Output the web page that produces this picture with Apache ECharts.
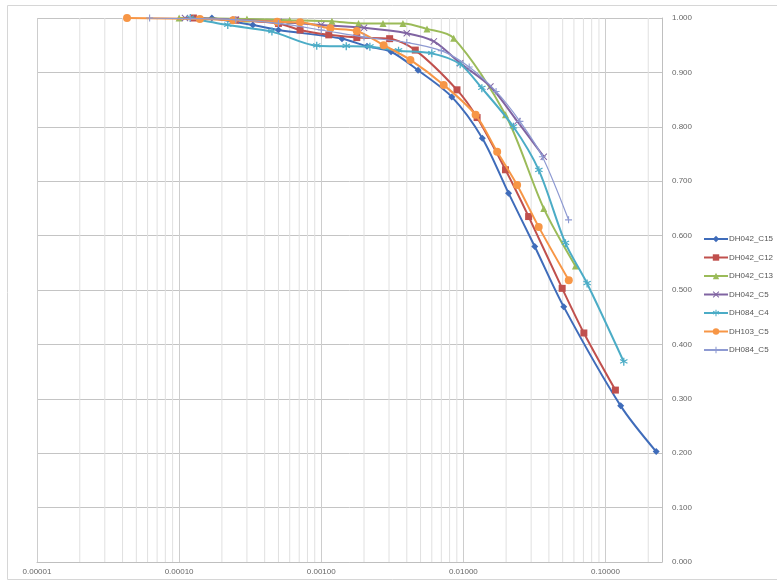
<!DOCTYPE html>
<html>
<head>
<meta charset="utf-8">
<script src="https://cdn.jsdelivr.net/npm/echarts@6/dist/echarts.min.js"></script>
<style>html,body{margin:0;padding:0;background:#fff}#c{width:777px;height:584px}</style>
</head>
<body>
<div id="c"></div>
<script>
// ---- data ----
const seriesNames = ['DH042_C15','DH042_C12','DH042_C13','DH042_C5','DH084_C4','DH103_C5','DH084_C5'];
const xTickLabels = ['0.00001','0.00010','0.00100','0.01000','0.10000'];
const yTickLabels = ['0.000','0.100','0.200','0.300','0.400','0.500','0.600','0.700','0.800','0.900','1.000'];

const c15X = [0.00017,0.00033,0.0005,0.0014,0.0021,0.0031,0.0048,0.0083,0.0136,0.0208,0.0318,0.0509,0.128,0.2275];
const c15Y = [1.000,0.987,0.978,0.962,0.948,0.938,0.904,0.855,0.779,0.678,0.580,0.469,0.287,0.203];

const c12X = [0.000126,0.00025,0.0005,0.00071,0.00113,0.00178,0.00303,0.00459,0.00902,0.0125,0.0198,0.0288,0.0496,0.0705,0.1175];
const c12Y = [1.000,0.996,0.990,0.978,0.969,0.964,0.962,0.941,0.868,0.817,0.721,0.635,0.503,0.421,0.316];

const c13X = [0.0001,0.0003,0.0006,0.00119,0.00183,0.00272,0.00376,0.00555,0.00855,0.0198,0.0368,0.0615];
const c13Y = [1.000,0.998,0.996,0.994,0.990,0.990,0.990,0.980,0.963,0.822,0.650,0.544];

const c5X = [0.00011,0.00025,0.0005,0.001,0.002,0.004,0.0062,0.0095,0.0155,0.024,0.0368];
const c5Y = [1.000,0.997,0.993,0.987,0.982,0.972,0.957,0.917,0.874,0.810,0.745];

const c4X = [0.00012,0.00022,0.00045,0.00093,0.0015,0.0022,0.0035,0.006,0.0095,0.0135,0.0225,0.034,0.0523,0.0743,0.1346];
const c4Y = [1.000,0.987,0.975,0.949,0.948,0.947,0.940,0.935,0.915,0.871,0.800,0.720,0.586,0.512,0.368];

const d103X = [0.000043,0.00014,0.00024,0.00049,0.00071,0.00116,0.00178,0.00275,0.00424,0.00727,0.0122,0.0173,0.0239,0.0339,0.0552];
const d103Y = [1.000,0.998,0.996,0.993,0.992,0.981,0.976,0.950,0.923,0.877,0.822,0.754,0.693,0.616,0.518];

const d84c5X = [0.000062,0.00012,0.00025,0.0005,0.001,0.002,0.004,0.007,0.011,0.017,0.025,0.036,0.055];
const d84c5Y = [1.000,0.999,0.997,0.990,0.978,0.965,0.955,0.940,0.910,0.865,0.810,0.745,0.629];

// ---- styling ----
const colors = ['#3F6CBA','#C0504D','#9BBB59','#8064A2','#4BACC6','#F79646','#8E9AD2'];
const symX = 'path://M1,0L5,4L9,0L10,1L6,5L10,9L9,10L5,6L1,10L0,9L4,5L0,1Z';
const symPlus = 'path://M4.2,0H5.8V4.2H10V5.8H5.8V10H4.2V5.8H0V4.2H4.2Z';
const symStar = 'path://M4.3,0H5.7V3.3L8.6,1.6L9.3,2.8L6.4,4.5L9.3,6.2L8.6,7.4L5.7,5.7V10H4.3V5.7L1.4,7.4L0.7,6.2L3.6,4.5L0.7,2.8L1.4,1.6L4.3,3.3Z';
const symbols = ['diamond','rect','triangle',symX,symStar,'circle',symPlus];
const symSizes = [7,7,7,7,8,8,7];
const widths = [2,2,2,2,2,2,1.2];

const xs = [c15X,c12X,c13X,c5X,c4X,d103X,d84c5X];
const ys = [c15Y,c12Y,c13Y,c5Y,c4Y,d103Y,d84c5Y];

const XMIN = 0.00001, XMAX = 0.25;
// minor log gridlines at 2..9 x 10^n (axis structure, not data)
const minorData = [];
for (let p = -5; p <= -1; p++) {
  for (let k = 2; k <= 9; k++) {
    const v = k * Math.pow(10, p);
    if (v < XMAX) { minorData.push([v, 0], [v, 1], '-'); }
  }
}

const FONT = 'Liberation Sans';
const series = [{
  name: '_minorgrid',
  type: 'line',
  data: minorData,
  connectNulls: false,
  symbol: 'none',
  silent: true,
  z: 1,
  lineStyle: { color: '#e0e0e0', width: 1 },
  animation: false
}];
seriesNames.forEach((n, i) => series.push({
  name: n,
  type: 'line',
  data: xs[i].map((x, j) => [x, ys[i][j]]),
  smooth: 0.3,
  symbol: symbols[i],
  symbolSize: symSizes[i],
  showAllSymbol: true,
  lineStyle: { color: colors[i], width: widths[i] },
  itemStyle: { color: colors[i] },
  z: 3 + i,
  animation: false
}));

const chart = echarts.init(document.getElementById('c'), null, { renderer: 'canvas' });
chart.setOption({
  backgroundColor: '#ffffff',
  animation: false,
  textStyle: { fontFamily: FONT },
  grid: { left: 37, right: 115, top: 18, bottom: 22, containLabel: false },
  xAxis: {
    type: 'log',
    logBase: 10,
    min: XMIN,
    max: XMAX,
    axisLine: { show: true, lineStyle: { color: '#bfbfbf', width: 1 } },
    axisTick: { show: false },
    splitLine: { show: true, lineStyle: { color: '#cdcdcd', width: 1 } },
    axisLabel: {
      fontSize: 8, color: '#666', margin: 6, fontFamily: FONT,
      formatter: function (v) {
        const e = Math.log10(v);
        if (Math.abs(e - Math.round(e)) > 1e-6) return '';
        const idx = Math.round(e) + 5;
        return xTickLabels[idx] || '';
      }
    }
  },
  yAxis: {
    type: 'value',
    position: 'right',
    min: 0,
    max: 1,
    interval: 0.1,
    axisLine: { show: true, lineStyle: { color: '#bfbfbf', width: 1 } },
    axisTick: { show: false },
    splitLine: { show: true, lineStyle: { color: '#c4c4c4', width: 1 } },
    axisLabel: {
      fontSize: 8, color: '#666', margin: 10, fontFamily: FONT,
      formatter: function (v) { return yTickLabels[Math.round(v * 10)] || ''; }
    }
  },
  legend: {
    data: seriesNames,
    orient: 'vertical',
    left: 703,
    top: 235,
    padding: 0,
    itemWidth: 24,
    itemHeight: 8,
    itemGap: 10.5,
    textStyle: { fontSize: 8, color: '#555', fontFamily: FONT, padding: [0,0,0,-4] }
  },
  graphic: [{
    type: 'rect',
    silent: true,
    shape: { x: 7.5, y: 5.5, width: 790, height: 574 },
    style: { fill: 'none', stroke: '#d6d6d6', lineWidth: 1 }
  }],
  series: series
});
</script>
</body>
</html>
